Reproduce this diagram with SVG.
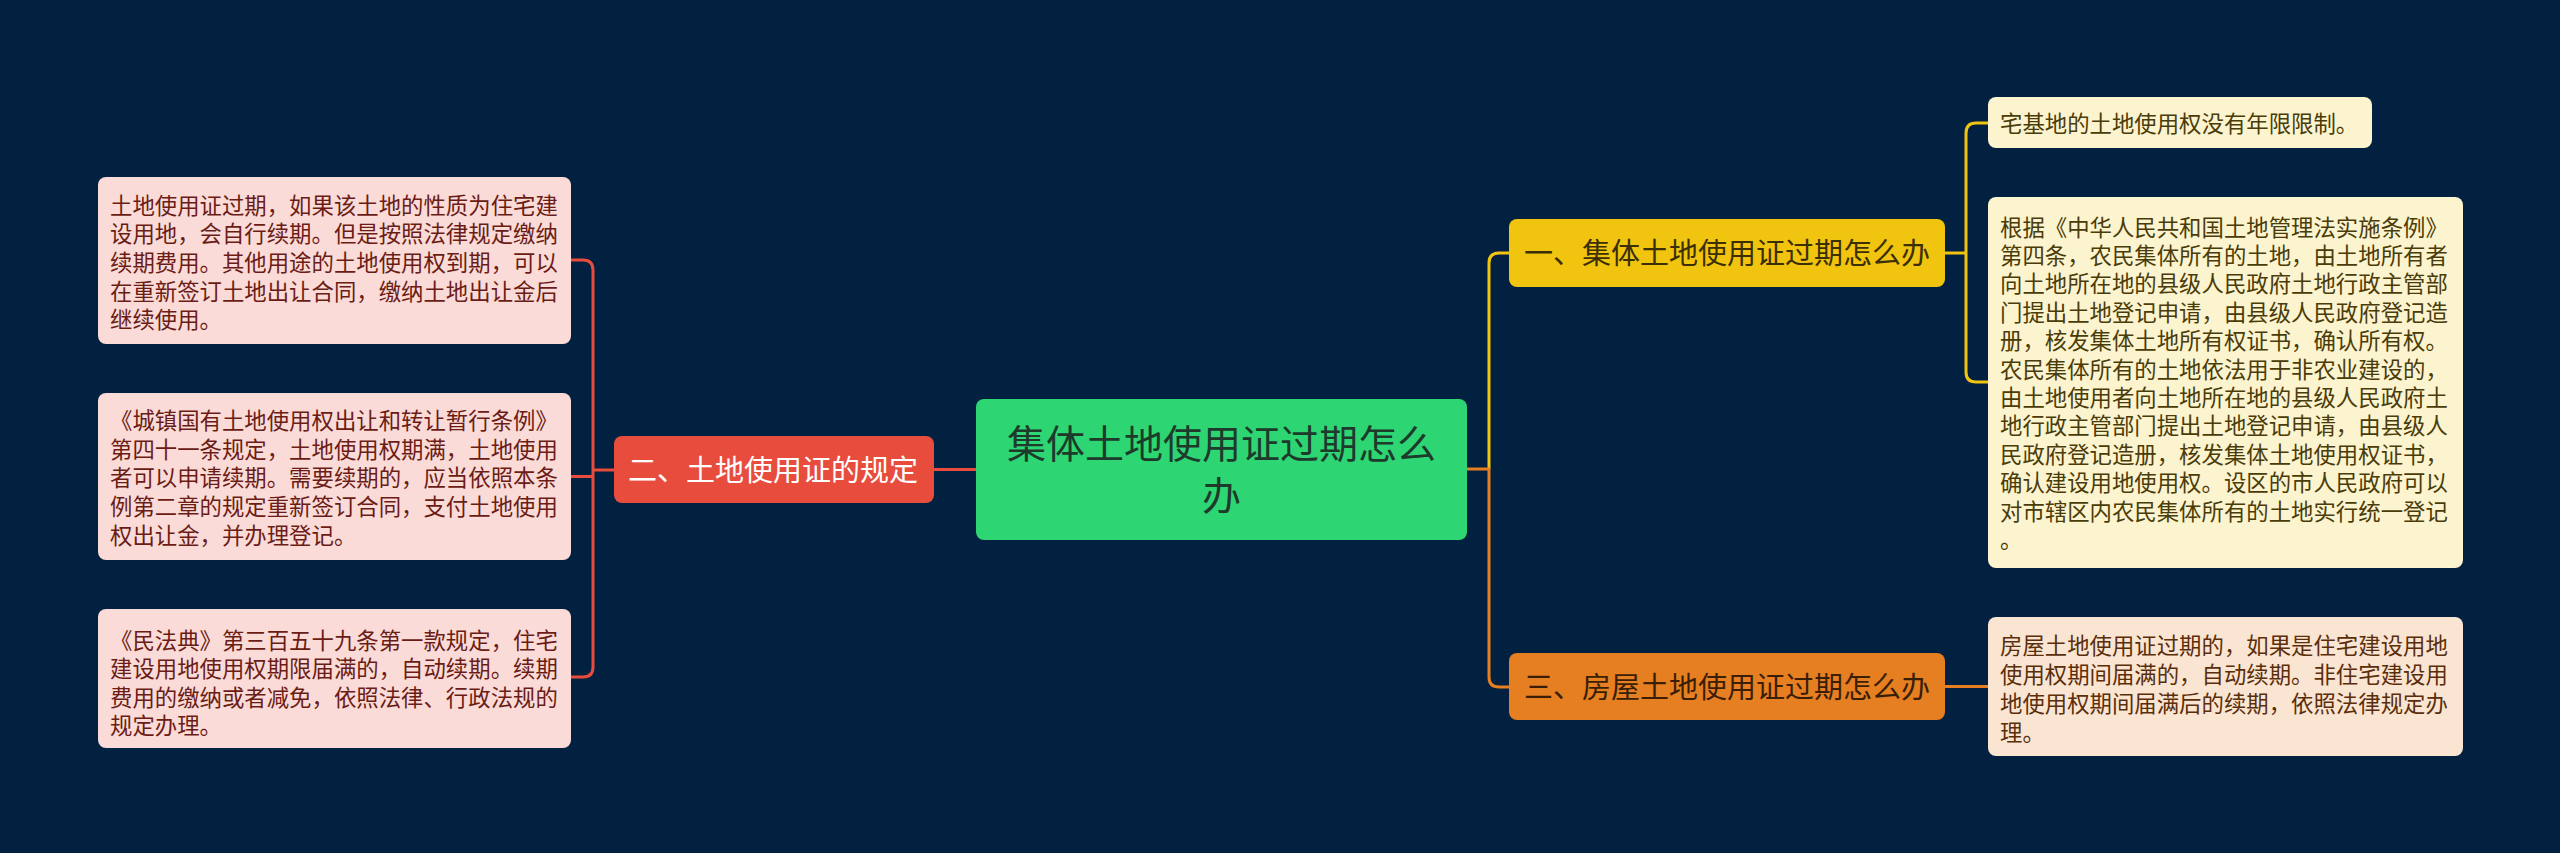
<svg xmlns="http://www.w3.org/2000/svg" width="2560" height="853" viewBox="0 0 2560 853">
<style>
text{font-family:"Noto Sans CJK SC","Noto Sans",sans-serif;}
.leaf{font-size:22.4px;}
.main{font-size:29px;}
.root{font-size:39px;fill:#1d3a2b;}
.conn{fill:none;stroke-width:3;}
</style>
<rect width="2560" height="853" fill="#02203f"/>
<g id="connectors">
<path class="conn" stroke="#e74c3c" d="M976,469.5 H934"/>
<path class="conn" stroke="#e74c3c" d="M571,260 H583 Q593,260 593,270 V667 Q593,677 583,677 H571"/>
<path class="conn" stroke="#e74c3c" d="M614,470 H593"/>
<path class="conn" stroke="#e74c3c" d="M593,476.5 H571"/>
<path class="conn" stroke="#f1c40f" d="M1489,469 V263 Q1489,253 1499,253 H1509"/>
<path class="conn" stroke="#e67e22" d="M1467,469 H1489 V677 Q1489,687 1499,687 H1509"/>
<path class="conn" stroke="#f1c40f" d="M1945,253 H1966"/>
<path class="conn" stroke="#f1c40f" d="M1988,123 H1976 Q1966,123 1966,133 V372 Q1966,382 1976,382 H1988"/>
<path class="conn" stroke="#e67e22" d="M1945,686.5 H1988"/>
</g>
<g id="root">
<rect x="976" y="399" width="491" height="141" rx="8" fill="#2ed573"/>
<text class="root" text-anchor="middle" x="1221.5" y="458">集体土地使用证过期怎么</text>
<text class="root" text-anchor="middle" x="1221.5" y="510">办</text>
</g>
<g id="node-1">
<rect x="1509" y="219" width="436" height="68" rx="8" fill="#f1c40f"/>
<text class="main" x="1524" y="264" fill="#3a2f05">一、集体土地使用证过期怎么办</text>
</g>
<g id="node-3">
<rect x="1509" y="653" width="436" height="67" rx="8" fill="#e67e22"/>
<text class="main" x="1524" y="697.5" fill="#3a1e05">三、房屋土地使用证过期怎么办</text>
</g>
<g id="node-2">
<rect x="614" y="436" width="320" height="67" rx="8" fill="#e74c3c"/>
<text class="main" x="628" y="480.5" fill="#ffffff">二、土地使用证的规定</text>
</g>
<g id="leaf-1a">
<rect x="1988" y="97" width="384" height="51" rx="8" fill="#fcf3cf"/>
<text class="leaf" x="2000" y="131.8" fill="#4a3c08">宅基地的土地使用权没有年限限制。</text>
</g>
<g id="leaf-1b">
<rect x="1988" y="197" width="475" height="371" rx="8" fill="#fcf3cf"/>
<text class="leaf" fill="#4a3c08">
<tspan x="2000" y="235.5">根据《中华人民共和国土地管理法实施条例》</tspan>
<tspan x="2000" y="263.9">第四条，农民集体所有的土地，由土地所有者</tspan>
<tspan x="2000" y="292.3">向土地所在地的县级人民政府土地行政主管部</tspan>
<tspan x="2000" y="320.7">门提出土地登记申请，由县级人民政府登记造</tspan>
<tspan x="2000" y="349.1">册，核发集体土地所有权证书，确认所有权。</tspan>
<tspan x="2000" y="377.5">农民集体所有的土地依法用于非农业建设的，</tspan>
<tspan x="2000" y="405.9">由土地使用者向土地所在地的县级人民政府土</tspan>
<tspan x="2000" y="434.3">地行政主管部门提出土地登记申请，由县级人</tspan>
<tspan x="2000" y="462.7">民政府登记造册，核发集体土地使用权证书，</tspan>
<tspan x="2000" y="491.1">确认建设用地使用权。设区的市人民政府可以</tspan>
<tspan x="2000" y="519.5">对市辖区内农民集体所有的土地实行统一登记</tspan>
<tspan x="2000" y="547.9">。</tspan>
</text>
</g>
<g id="leaf-3a">
<rect x="1988" y="617" width="475" height="139" rx="8" fill="#fae5d3"/>
<text class="leaf" fill="#5a2e0a">
<tspan x="2000" y="653.5">房屋土地使用证过期的，如果是住宅建设用地</tspan>
<tspan x="2000" y="682.5">使用权期间届满的，自动续期。非住宅建设用</tspan>
<tspan x="2000" y="711.5">地使用权期间届满后的续期，依照法律规定办</tspan>
<tspan x="2000" y="740.5">理。</tspan>
</text>
</g>
<g id="leaf-2a">
<rect x="98" y="177" width="473" height="167" rx="8" fill="#fadbd8"/>
<text class="leaf" fill="#6b1c15">
<tspan x="110" y="213.5">土地使用证过期，如果该土地的性质为住宅建</tspan>
<tspan x="110" y="242.2">设用地，会自行续期。但是按照法律规定缴纳</tspan>
<tspan x="110" y="270.9">续期费用。其他用途的土地使用权到期，可以</tspan>
<tspan x="110" y="299.6">在重新签订土地出让合同，缴纳土地出让金后</tspan>
<tspan x="110" y="328.3">继续使用。</tspan>
</text>
</g>
<g id="leaf-2b">
<rect x="98" y="393" width="473" height="167" rx="8" fill="#fadbd8"/>
<text class="leaf" fill="#6b1c15">
<tspan x="110" y="429">《城镇国有土地使用权出让和转让暂行条例》</tspan>
<tspan x="110" y="457.7">第四十一条规定，土地使用权期满，土地使用</tspan>
<tspan x="110" y="486.4">者可以申请续期。需要续期的，应当依照本条</tspan>
<tspan x="110" y="515.1">例第二章的规定重新签订合同，支付土地使用</tspan>
<tspan x="110" y="543.8">权出让金，并办理登记。</tspan>
</text>
</g>
<g id="leaf-2c">
<rect x="98" y="609" width="473" height="139" rx="8" fill="#fadbd8"/>
<text class="leaf" fill="#6b1c15">
<tspan x="110" y="648.5">《民法典》第三百五十九条第一款规定，住宅</tspan>
<tspan x="110" y="677">建设用地使用权期限届满的，自动续期。续期</tspan>
<tspan x="110" y="705.5">费用的缴纳或者减免，依照法律、行政法规的</tspan>
<tspan x="110" y="734">规定办理。</tspan>
</text>
</g>
</svg>
